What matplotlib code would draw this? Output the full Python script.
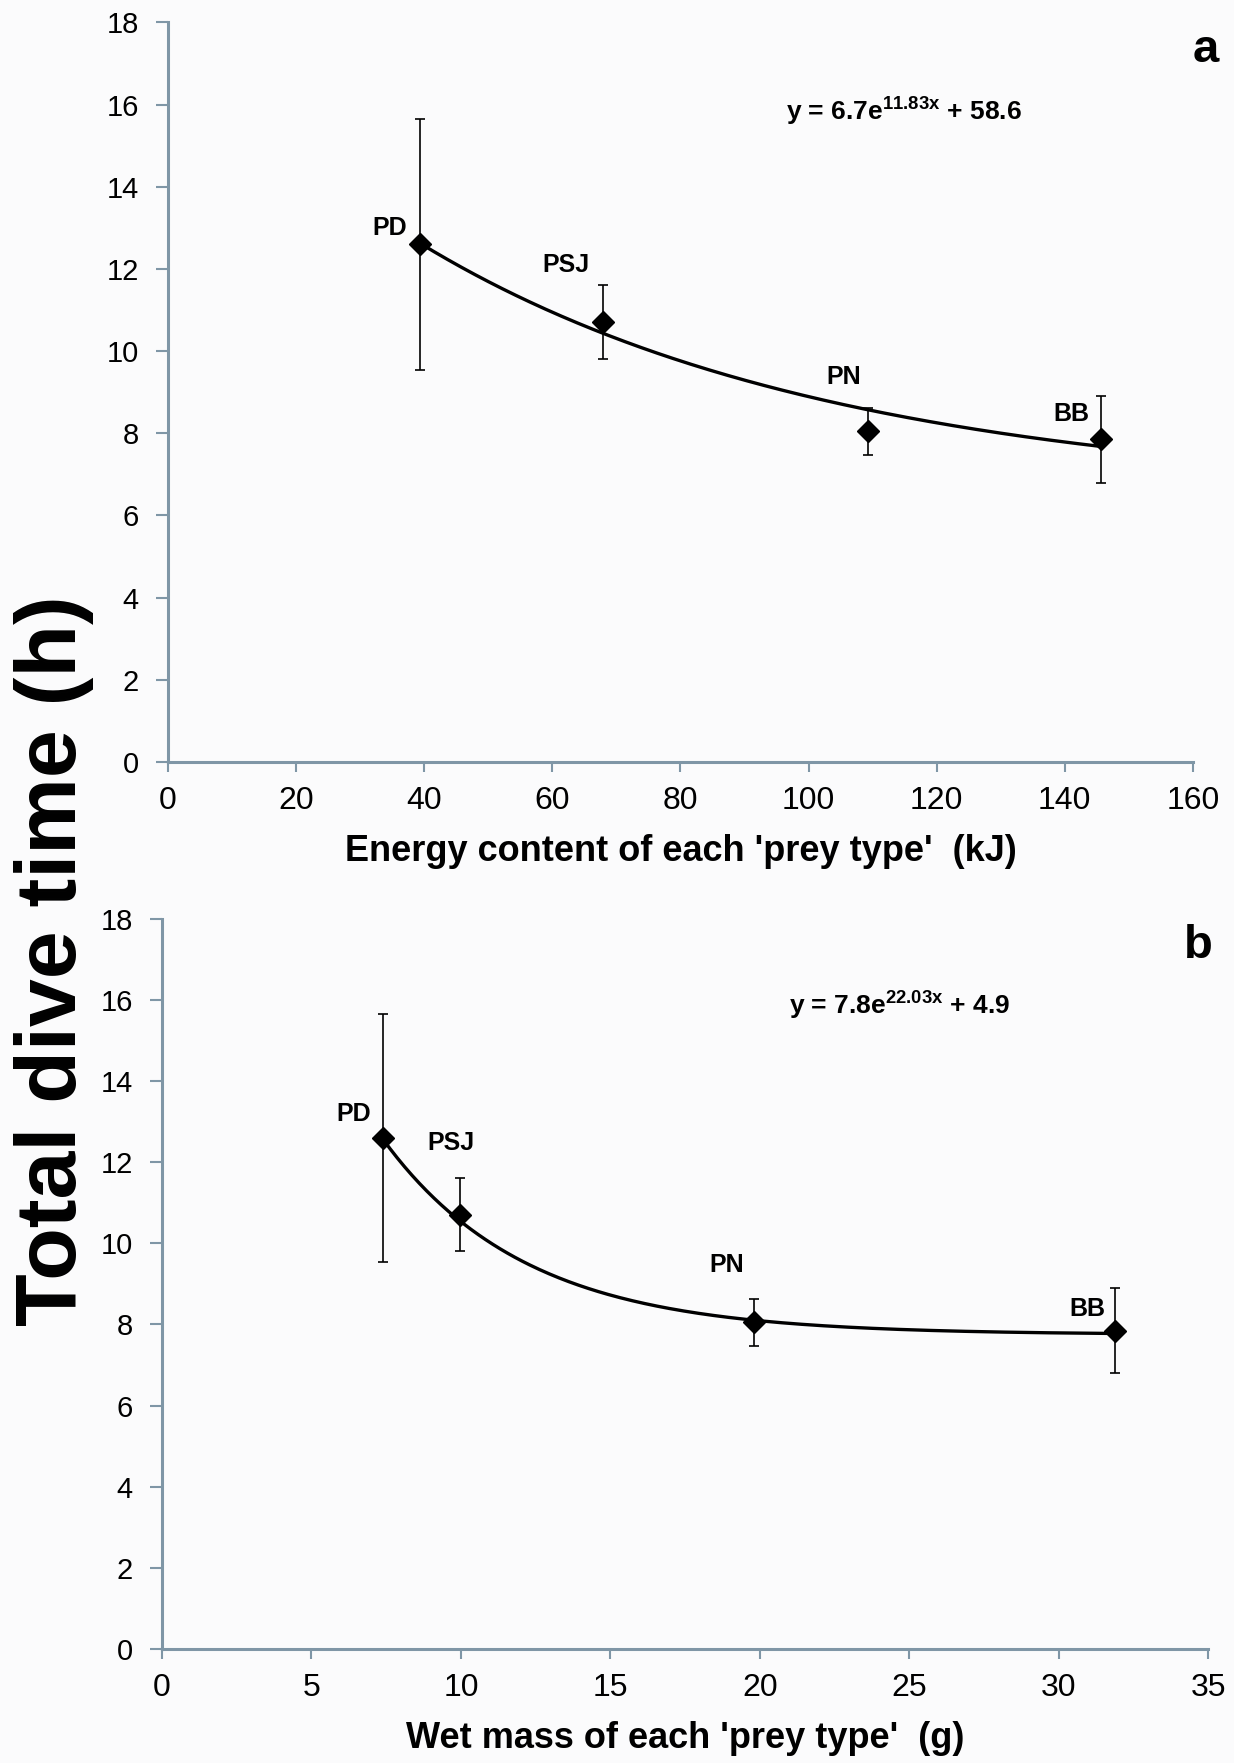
import matplotlib
matplotlib.use("Agg")
import matplotlib.pyplot as plt
import numpy as np
from matplotlib import font_manager

# ---------------- data ----------------
prey_types = ["PD", "PSJ", "PN", "BB"]
energy_kj = [39.4, 67.9, 109.3, 145.6]
wet_mass_g = [7.38, 9.97, 19.81, 31.89]
dive_time_h = [12.6, 10.7, 8.05, 7.85]
dive_time_err = [3.05, 0.9, 0.57, 1.05]

# trend line parameters (y = c + A*exp(-b*x))
trend_a = dict(A=11.27, b=0.0155, c=6.5)
trend_b = dict(A=22.75, b=0.21, c=7.75)

eq_a = r"y = 6.7e$^{\mathbf{11.83x}}$ + 58.6"
eq_b = r"y = 7.8e$^{\mathbf{22.03x}}$ + 4.9"

xticks_a = [0, 20, 40, 60, 80, 100, 120, 140, 160]
xticks_b = [0, 5, 10, 15, 20, 25, 30, 35]
yticks = [0, 2, 4, 6, 8, 10, 12, 14, 16, 18]

xlabel_a = "Energy content of each 'prey type'  (kJ)"
xlabel_b = "Wet mass of each 'prey type'  (g)"
ylabel = "Total dive time (h)"

# label offsets in pixels (dx, dy) relative to each point
offs_a = [(-31, 16), (-37, 57), (-24, 54), (-29, 25)]
offs_b = [(-29, 24), (-9, 72), (-27, 57), (-28, 22)]

# ---------------- fonts ----------------
names = {f.name for f in font_manager.fontManager.ttflist}
narrow = "Liberation Sans Narrow" if "Liberation Sans Narrow" in names else (
    "DejaVu Sans Condensed" if "DejaVu Sans Condensed" in names else "Liberation Sans")
plt.rcParams["font.family"] = ["Liberation Sans", "DejaVu Sans"]
plt.rcParams["mathtext.fontset"] = "custom"
plt.rcParams["mathtext.bf"] = "Liberation Sans:bold"
plt.rcParams["mathtext.rm"] = "Liberation Sans:bold"

bg = "#fbfbfc"
spine_col = "#7f96a6"

fig = plt.figure(figsize=(12.34, 17.63), dpi=100, facecolor=bg)
ax1 = fig.add_axes([0.1361, 0.5678, 0.8306, 0.4195], facecolor=bg)
ax2 = fig.add_axes([0.1313, 0.0647, 0.8477, 0.4141], facecolor=bg)


def draw(ax, xs, xmax, xticks, trend, offs, eq, eq_pos, xlabel, letter, letter_pos):
    ax.errorbar(xs, dive_time_h, yerr=dive_time_err, fmt="none", ecolor="black",
                elinewidth=1.2, capsize=3.3, capthick=1.2, zorder=2)
    xx = np.linspace(min(xs), max(xs), 300)
    ax.plot(xx, trend["c"] + trend["A"] * np.exp(-trend["b"] * xx), color="black",
            lw=2.4, zorder=3)
    ax.plot(xs, dive_time_h, linestyle="none", marker="D", markersize=11.5,
            color="black", zorder=4)
    for x, y, lab, (dx, dy) in zip(xs, dive_time_h, prey_types, offs):
        ax.annotate(lab, (x, y), xytext=(dx, dy), textcoords="offset pixels",
                    ha="center", va="center", fontsize=18, fontweight="bold",
                    family=["Liberation Sans", "DejaVu Sans"])
    ax.set_xlim(0, xmax)
    ax.set_ylim(0, 18)
    ax.set_xticks(xticks)
    ax.set_yticks(yticks)
    for s in ["top", "right"]:
        ax.spines[s].set_visible(False)
    for s in ["left", "bottom"]:
        ax.spines[s].set_color(spine_col)
        ax.spines[s].set_linewidth(2.2)
    ax.tick_params(axis="y", direction="out", length=9, width=1.5, color=spine_col,
                   labelsize=21, pad=12)
    ax.tick_params(axis="x", direction="out", length=7, width=1.5, color=spine_col,
                   labelsize=23, pad=10)
    for t in ax.get_xticklabels():
        t.set_family([narrow, "DejaVu Sans"])
    ax.set_xlabel(xlabel, fontsize=26, fontweight="bold", family=[narrow, "DejaVu Sans"],
                  labelpad=13)
    ax.text(eq_pos[0], eq_pos[1], eq, transform=ax.transAxes, fontsize=19,
            fontweight="bold", ha="left", va="center")
    ax.text(letter_pos[0], letter_pos[1], letter, transform=ax.transAxes, fontsize=34,
            fontweight="bold", ha="center", va="center")


draw(ax1, energy_kj, 160, xticks_a, trend_a, offs_a, eq_a, (0.603, 0.881),
     xlabel_a, "a", (1.013, 0.962))
draw(ax2, wet_mass_g, 35, xticks_b, trend_b, offs_b, eq_b, (0.599, 0.882),
     xlabel_b, "b", (0.991, 0.963))

fig.text(54 / 1234, 1 - 961 / 1763, ylabel, rotation=90, ha="center", va="center",
         fontsize=62, fontweight="bold")

fig.savefig("out.png", dpi=100, facecolor=bg)
